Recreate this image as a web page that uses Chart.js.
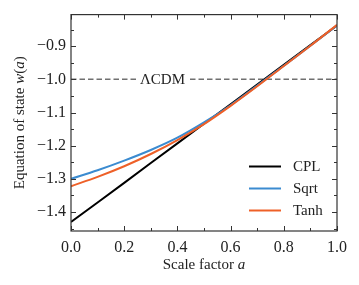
<!DOCTYPE html>
<html><head><meta charset="utf-8">
<script src="https://cdn.jsdelivr.net/npm/chart.js@4/dist/chart.umd.min.js"></script>
<style>html,body{margin:0;padding:0;background:#fff}#wrap{width:359px;height:285px}</style>
</head><body><div id="wrap"><canvas id="c" width="359" height="285"></canvas></div>
<script>
// ---- data ----
const scaleFactor = [0.0, 0.1, 0.2, 0.3, 0.4, 0.5, 0.6, 0.7, 0.8, 0.9, 1.0];
const cplW  = [-1.430, -1.371, -1.312, -1.252, -1.193, -1.134, -1.075, -1.016, -0.956, -0.897, -0.838];
const sqrtW = [-1.300, -1.274, -1.245, -1.213, -1.176, -1.130, -1.078, -1.019, -0.959, -0.899, -0.838];
const tanhW = [-1.322, -1.294, -1.262, -1.225, -1.183, -1.135, -1.080, -1.021, -0.960, -0.899, -0.836];
const lcdmA = [0.0, 1.0];
const lcdmW = [-1.0, -1.0];
const seriesNames = ['CPL', 'Sqrt', 'Tanh'];
const lcdmName = 'ΛCDM';
const lcdmLabelA = 0.344;
const xTickValues = [0.0, 0.2, 0.4, 0.6, 0.8, 1.0];
const xMinorValues = [0.1, 0.3, 0.5, 0.7, 0.9];
const yTickValues = [-1.4, -1.3, -1.2, -1.1, -1.0, -0.9];
const yMinorValues = [-1.45, -1.35, -1.25, -1.15, -1.05, -0.95, -0.85];
const xTitleParts = [['Scale factor ', false], ['a', true]];
const yTitleParts = [['Equation of state ', false], ['w', true], ['(', false], ['a', true], [')', false]];

const SERIF = "'Liberation Serif', 'DejaVu Serif', serif";
const toPts = (xs, ys) => xs.map((v, i) => ({x: v, y: ys[i]}));
const fmt = v => (v < 0 ? '\u2212' : '') + Math.abs(v).toFixed(1);

function drawParts(ctx, parts, cx, cy) {
  const fonts = parts.map(p => (p[1] ? 'italic ' : '') + '15px ' + SERIF);
  let total = 0;
  const widths = parts.map((p, i) => { ctx.font = fonts[i]; const w = ctx.measureText(p[0]).width; total += w; return w; });
  let x = cx - total / 2;
  ctx.textAlign = 'left'; ctx.textBaseline = 'middle';
  parts.forEach((p, i) => { ctx.font = fonts[i]; ctx.fillText(p[0], x, cy); x += widths[i]; });
}

const frameTicks = {
  id: 'frameTicks',
  afterDatasetsDraw(chart) {
    const {ctx, chartArea: a, scales: {x, y}} = chart;
    ctx.save();
    ctx.strokeStyle = '#333';
    ctx.lineWidth = 1;
    ctx.beginPath();
    const vt = (v, len) => {
      const px = Math.round(x.getPixelForValue(v)) + 0.5;
      ctx.moveTo(px, a.bottom); ctx.lineTo(px, a.bottom - len);
      ctx.moveTo(px, a.top); ctx.lineTo(px, a.top + len);
    };
    const ht = (v, len) => {
      const py = Math.round(y.getPixelForValue(v)) + 0.5;
      ctx.moveTo(a.left, py); ctx.lineTo(a.left + len, py);
      ctx.moveTo(a.right, py); ctx.lineTo(a.right - len, py);
    };
    xTickValues.forEach(v => vt(v, 5));
    xMinorValues.forEach(v => vt(v, 3));
    yTickValues.forEach(v => ht(v, 5));
    yMinorValues.forEach(v => ht(v, 3));
    ctx.stroke();
    ctx.lineWidth = 1.2;
    ctx.strokeRect(a.left, a.top, a.right - a.left, a.bottom - a.top);
    // LCDM label
    const lx = x.getPixelForValue(lcdmLabelA), ly = y.getPixelForValue(-1.0);
    ctx.font = '15px ' + SERIF;
    const tw = ctx.measureText(lcdmName).width;
    ctx.fillStyle = '#fff';
    ctx.fillRect(lx - tw / 2 - 2, ly - 6, tw + 4, 12);
    ctx.fillStyle = '#222';
    ctx.textAlign = 'center'; ctx.textBaseline = 'middle';
    ctx.fillText(lcdmName, lx, ly + 1);
    // legend
    const ds = chart.data.datasets.slice(0, 3);
    ctx.textAlign = 'left';
    ds.forEach((d, i) => {
      const ry = a.bottom - 20.5 - (2 - i) * 22;
      ctx.strokeStyle = d.borderColor; ctx.lineWidth = 2;
      ctx.beginPath(); ctx.moveTo(a.right - 88, ry); ctx.lineTo(a.right - 56, ry); ctx.stroke();
      ctx.fillStyle = '#222';
      ctx.font = '15px ' + SERIF;
      ctx.textAlign = 'left'; ctx.textBaseline = 'middle';
      ctx.fillText(d.label, a.right - 44, ry + 1);
    });
    // axis titles
    ctx.fillStyle = '#222';
    drawParts(ctx, xTitleParts, (a.left + a.right) / 2, chart.height - 20);
    ctx.save();
    ctx.translate(20, (a.top + a.bottom) / 2);
    ctx.rotate(-Math.PI / 2);
    drawParts(ctx, yTitleParts, 0, 0);
    ctx.restore();
    ctx.restore();
  }
};

new Chart(document.getElementById('c'), {
  type: 'line',
  data: {
    datasets: [
      {label: seriesNames[0], data: toPts(scaleFactor, cplW), borderColor: '#000000', borderWidth: 2, pointRadius: 0, order: 3},
      {label: seriesNames[1], data: toPts(scaleFactor, sqrtW), borderColor: '#3b8bd0', borderWidth: 2, pointRadius: 0, cubicInterpolationMode: 'monotone', order: 2},
      {label: seriesNames[2], data: toPts(scaleFactor, tanhW), borderColor: '#ee6028', borderWidth: 2, pointRadius: 0, cubicInterpolationMode: 'monotone', order: 1},
      {label: lcdmName, data: toPts(lcdmA, lcdmW), borderColor: '#707070', borderWidth: 1.5, borderDash: [5.5, 3], pointRadius: 0, order: 4}
    ]
  },
  options: {
    responsive: false,
    devicePixelRatio: 1,
    animation: false,
    layout: {padding: {top: 12, right: 22, left: 0, bottom: 0}},
    plugins: {legend: {display: false}, tooltip: {enabled: false}},
    scales: {
      x: {
        type: 'linear', min: 0, max: 1,
        afterBuildTicks: s => { s.ticks = xTickValues.map(v => ({value: v})); },
        afterFit: s => { s.height = 54; },
        grid: {display: false, drawTicks: false},
        border: {display: false},
        ticks: {padding: 7, color: '#222', font: {family: SERIF, size: 16}, callback: v => fmt(v), maxRotation: 0},
        title: {display: false}
      },
      y: {
        type: 'linear', min: -1.457, max: -0.805,
        afterBuildTicks: s => { s.ticks = yTickValues.map(v => ({value: v})); },
        afterFit: s => { s.width = 71; },
        grid: {display: false, drawTicks: false},
        border: {display: false},
        ticks: {padding: 5, color: '#222', font: {family: SERIF, size: 16}, callback: v => fmt(v)},
        title: {display: false}
      }
    }
  },
  plugins: [frameTicks]
});
</script>
</body></html>
